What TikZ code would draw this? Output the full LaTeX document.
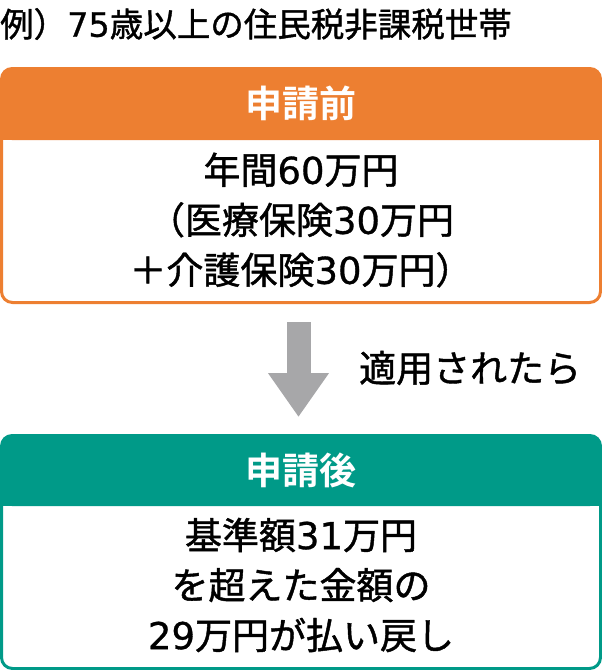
\documentclass[tikz,border=0pt]{standalone}
\usepackage{fontspec}
\usetikzlibrary{arrows.meta}
\newfontfamily\jp[FakeBold=1.2]{Noto Sans CJK JP}
\newfontfamily\jpb{Noto Sans CJK JP Bold}
\newfontfamily\dgfont[FakeBold=0.8]{DejaVu Sans}
\newcommand{\dg}[1]{{\dgfont #1}}
\definecolor{orangeC}{RGB}{237,127,49}
\definecolor{greenC}{RGB}{0,154,136}
\definecolor{grayC}{RGB}{167,167,169}
\tikzset{
  hdrbox/.style={minimum width=602pt, minimum height=73pt, rounded corners=12pt, inner sep=0pt,
    text=white, font=\jpb\fontsize{37}{40}\selectfont},
  bodyframe/.style={line width=3pt, rounded corners=11pt, fill=white},
  bodytext/.style={align=center, inner sep=0pt, font=\jp\fontsize{37}{50}\selectfont},
  plain/.style={inner sep=0pt, font=\jp\fontsize{33.5}{40}\selectfont},
}
\begin{document}
\begin{tikzpicture}[x=1pt, y=-1pt]
\useasboundingbox (0,0) rectangle (602,670);
% title
\node[plain, anchor=west] (title) at (0,24) {例）\dg{75}歳以上の住民税非課税世帯};
% before box
\draw[bodyframe, draw=orangeC] (1.5,90) rectangle (600.5,302.5);
\node[hdrbox, fill=orangeC] (pre) at (301,103.5) {申請前};
\fill[orangeC] (pre.south west) rectangle ([yshift=14pt]pre.south east);
\node[bodytext] (pretext) at (301,220) {年間\dg{60}万円\\（医療保険\dg{30}万円\\＋介護保険\dg{30}万円）};
% arrow
\coordinate (as) at (298.5,322);
\coordinate (ae) at (298.5,417);
\draw[grayC, line width=24pt, -{Triangle[width=58pt, length=44pt]}] (as) -- (ae);
\node[plain, anchor=west, font=\jp\fontsize{37}{40}\selectfont] (cond) at (359,368) {適用されたら};
% after box
\draw[bodyframe, draw=greenC] (1.5,460) rectangle (600.5,668.5);
\node[hdrbox, fill=greenC, minimum height=72pt] (post) at (301,470) {申請後};
\fill[greenC] (post.south west) rectangle ([yshift=14pt]post.south east);
\node[bodytext] (posttext) at (301,585) {基準額\dg{31}万円\\を超えた金額の\\\dg{29}万円が払い戻し};
\end{tikzpicture}
\end{document}
